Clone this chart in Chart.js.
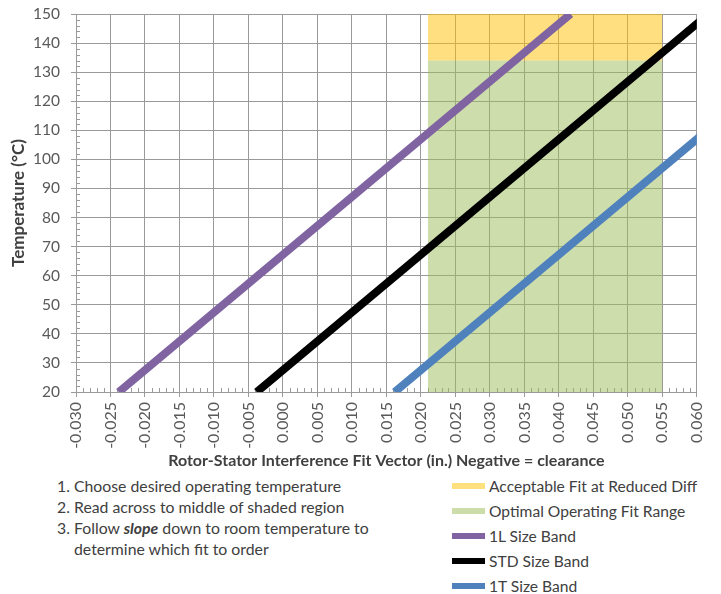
<!DOCTYPE html>
<html>
<head>
<meta charset="utf-8">
<script src="https://cdn.jsdelivr.net/npm/chart.js@4.4.1/dist/chart.umd.min.js"></script>
<style>
  body { margin: 0; background: #fff; font-family: Lato, sans-serif; }
  #wrap { position: relative; width: 721px; height: 594px; overflow: hidden; }
  #box { position: absolute; left: 0; top: 0; width: 721px; height: 470px; }
  #notes { position: absolute; left: 57px; top: 475px; font-size: 15.8px; line-height: 21px; color: #404040; }
  #notes .n { display: inline-block; width: 17px; }
  #legend { position: absolute; left: 452px; top: 473px; font-size: 15.6px; color: #404040; }
  #legend .row { height: 25.2px; display: flex; align-items: center; }
  #legend .sw { width: 33px; height: 6px; margin-right: 4px; }
</style>
</head>
<body>
<div id="wrap">
  <div id="box"><canvas id="fitChart"></canvas></div>
  <div id="notes">
    <div><span class="n">1.</span>Choose desired operating temperature</div>
    <div><span class="n">2.</span>Read across to middle of shaded region</div>
    <div><span class="n">3.</span>Follow <b><i>slope</i></b> down to room temperature to</div>
    <div><span class="n"></span>determine which fit to order</div>
  </div>
  <div id="legend"></div>
</div>
<script>
// =============== Données
const temps = [20, 150];               // temperature (°C) at both ends of each band
const band1L = [-0.0238, 0.0417];      // fit (in.) at 20 °C and 150 °C
const bandSTD = [-0.0038, 0.0617];
const band1T = [0.0162, 0.0817];
const optimalFit = [0.021, 0.055];     // shaded fit range (in.)
const reducedDiffTemp = 134;           // yellow above, green below

const xMin = -0.030, xMax = 0.060, xStep = 0.005;
const yMin = 20, yMax = 150, yStep = 10;

const toPoints = (xs, ys) => xs.map((v, i) => ({ x: v, y: ys[i] }));

// =============== Petits traits (minor ticks)
const minorTicks = {
    id: 'minorTicks',
    beforeDatasetsDraw(chart) {
        const { ctx, chartArea, scales: { x, y } } = chart;
        ctx.save();
        ctx.strokeStyle = '#9a9a9a';
        ctx.lineWidth = 1;
        ctx.beginPath();
        for (let i = 1; i < 90; i++) {
            if (i % 5 === 0) continue;
            const px = Math.round(x.getPixelForValue(xMin + i * 0.001)) + 0.5;
            ctx.moveTo(px, chartArea.bottom);
            ctx.lineTo(px, chartArea.bottom - 4);
        }
        for (let t = yMin + 2; t < yMax; t += 2) {
            if (t % 10 === 0) continue;
            const py = Math.round(y.getPixelForValue(t)) + 0.5;
            ctx.moveTo(chartArea.left, py);
            ctx.lineTo(chartArea.left + 4, py);
        }
        ctx.stroke();
        ctx.restore();
    }
};

const fit_chart = document.getElementById('fitChart');

const chart = new Chart(fit_chart, {
    type: 'scatter',
    data: {
        datasets: [{
            label: 'Acceptable Fit at Reduced Diff',
            data: toPoints(optimalFit, [reducedDiffTemp, reducedDiffTemp]),
            showLine: true,
            fill: 'end',
            backgroundColor: 'rgba(255, 192, 0, 0.5)',
            borderWidth: 0,
            pointRadius: 0,
            order: 2,
            legendColor: '#ffe07f'
        }, {
            label: 'Optimal Operating Fit Range',
            data: toPoints(optimalFit, [reducedDiffTemp, reducedDiffTemp]),
            showLine: true,
            fill: 'start',
            backgroundColor: 'rgba(155, 187, 89, 0.5)',
            borderWidth: 0,
            pointRadius: 0,
            order: 2,
            legendColor: '#cddda9'
        }, {
            label: '1L Size Band',
            data: toPoints(band1L, temps),
            showLine: true,
            borderColor: '#8064a2',
            borderWidth: 8,
            pointRadius: 0,
            clip: 0,
            order: 1,
            legendColor: '#8064a2'
        }, {
            label: 'STD Size Band',
            data: toPoints(bandSTD, temps),
            showLine: true,
            borderColor: '#000000',
            borderWidth: 8,
            pointRadius: 0,
            clip: 0,
            order: 1,
            legendColor: '#000000'
        }, {
            label: '1T Size Band',
            data: toPoints(band1T, temps),
            showLine: true,
            borderColor: '#4f81bd',
            borderWidth: 8,
            pointRadius: 0,
            clip: 0,
            order: 1,
            legendColor: '#4f81bd'
        }]
    },
    options: {
        responsive: true,
        maintainAspectRatio: false,
        animation: false,
        layout: { padding: { top: 14, right: 20, left: 0, bottom: 0 } },
        plugins: {
            legend: { display: false },
            tooltip: { enabled: false }
        },
        scales: {
            x: {
                type: 'linear',
                min: xMin,
                max: xMax,
                afterFit(scale) { scale.height = 78; },
                ticks: {
                    stepSize: xStep,
                    minRotation: 90,
                    maxRotation: 90,
                    padding: 5,
                    color: '#595959',
                    font: { family: 'Lato', size: 16 },
                    callback: v => (Math.abs(v) < 1e-9 ? 0 : v).toFixed(3)
                },
                grid: { color: '#9a9a9a', tickLength: 5 },
                border: { color: '#9a9a9a' },
                title: {
                    display: true,
                    text: 'Rotor-Stator Interference Fit Vector (in.) Negative = clearance',
                    color: '#404040',
                    font: { family: 'Lato', size: 16, weight: 'bold' },
                    padding: { top: 0, bottom: 0 }
                }
            },
            y: {
                min: yMin,
                max: yMax,
                afterFit(scale) {
                    scale.width = 76;
                    scale.paddingTop = 0;
                    scale.paddingBottom = 0;
                },
                ticks: {
                    stepSize: yStep,
                    padding: 11,
                    color: '#595959',
                    font: { family: 'Lato', size: 15.5 }
                },
                grid: { color: '#9a9a9a', tickLength: 5 },
                border: { color: '#9a9a9a' },
                title: {
                    display: true,
                    text: 'Temperature (°C)',
                    color: '#404040',
                    font: { family: 'Lato', size: 17, weight: 'bold' },
                    padding: { top: 8, bottom: 0 }
                }
            }
        }
    },
    plugins: [minorTicks]
});

// =============== Légende
const legend = document.getElementById('legend');
chart.data.datasets.forEach(ds => {
    const row = document.createElement('div');
    row.className = 'row';
    row.innerHTML = '<span class="sw" style="background:' + ds.legendColor + '"></span>' + ds.label;
    legend.appendChild(row);
});
</script>
</body>
</html>
